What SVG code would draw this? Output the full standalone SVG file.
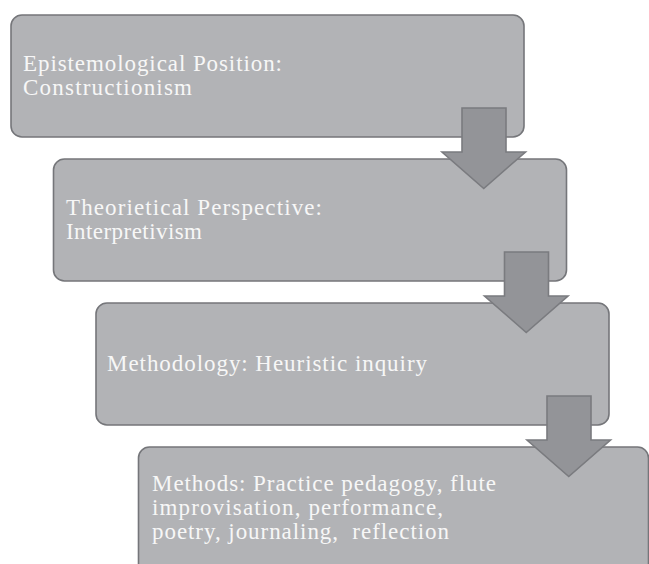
<svg xmlns="http://www.w3.org/2000/svg" width="649" height="564" viewBox="0 0 649 564">
  <style>
    .box { fill: #b2b3b6; stroke: #75767a; stroke-width: 1.6; }
    .lbl { font-family: "Liberation Serif", "DejaVu Serif", serif; font-size: 23px; fill: #f7f7f7; }
    .arr { fill: #939498; stroke: #7a7b7f; stroke-width: 1.6; stroke-linejoin: miter; }
  </style>
  <rect width="649" height="564" fill="#ffffff"/>
  <g id="node-epistemology">
    <rect class="box" x="11" y="15" width="513" height="122" rx="11"/>
    <text class="lbl"><tspan x="23" y="71" textLength="259" lengthAdjust="spacing">Epistemological Position:</tspan><tspan x="23" y="95" textLength="169" lengthAdjust="spacing">Constructionism</tspan></text>
  </g>
  <g id="node-theory">
    <rect class="box" x="53.5" y="159" width="513" height="122" rx="11"/>
    <text class="lbl"><tspan x="66" y="215" textLength="256" lengthAdjust="spacing">Theorietical Perspective:</tspan><tspan x="66" y="239" textLength="136" lengthAdjust="spacing">Interpretivism</tspan></text>
  </g>
  <g id="node-methodology">
    <rect class="box" x="96" y="303" width="513" height="122" rx="11"/>
    <text class="lbl"><tspan x="107" y="371" textLength="320" lengthAdjust="spacing">Methodology: Heuristic inquiry</tspan></text>
  </g>
  <g id="node-methods">
    <rect class="box" x="138.5" y="447" width="510" height="130" rx="11"/>
    <text class="lbl" xml:space="preserve"><tspan x="152" y="491" textLength="344" lengthAdjust="spacing">Methods: Practice pedagogy, flute</tspan><tspan x="152" y="515" textLength="291" lengthAdjust="spacing">improvisation, performance,</tspan><tspan x="152" y="539" textLength="297" lengthAdjust="spacing">poetry, journaling,  reflection</tspan></text>
  </g>
  <g id="connectors">
    <path class="arr" d="M462 108 H506 V152 H525.5 L483.75 188.5 L442 152 H462 Z"/>
    <path class="arr" d="M504.5 252 H548.5 V296 H568 L526.25 332.5 L484.5 296 H504.5 Z"/>
    <path class="arr" d="M547 396 H591 V440 H610.5 L568.75 476.5 L527 440 H547 Z"/>
  </g>
</svg>
